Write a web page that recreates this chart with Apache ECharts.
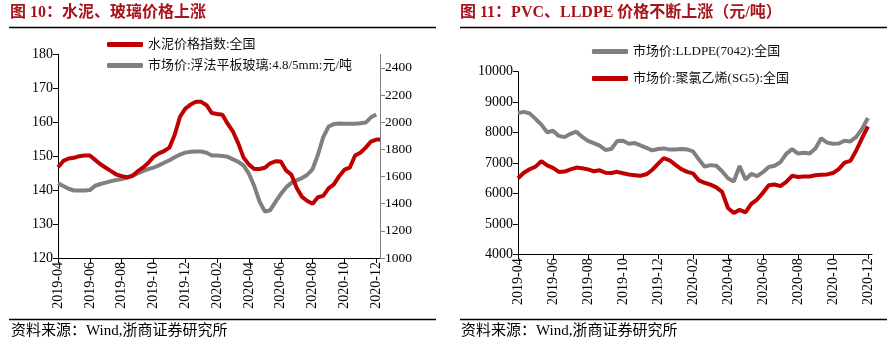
<!DOCTYPE html>
<html>
<head>
<meta charset="utf-8">
<script src="https://cdn.jsdelivr.net/npm/echarts@6/dist/echarts.min.js"></script>
<style>
  html, body { margin: 0; padding: 0; background: #fff; }
  #chart { width: 893px; height: 345px; }
</style>
</head>
<body>
<div id="chart"></div>
<script>
// sampling days within each month (1st, 11th, 21st)
const months = ['2019-04', '2019-05', '2019-06', '2019-07', '2019-08', '2019-09', '2019-10',
  '2019-11', '2019-12', '2020-01', '2020-02', '2020-03', '2020-04', '2020-05', '2020-06',
  '2020-07', '2020-08', '2020-09', '2020-10', '2020-11'];
const days = ['01', '11', '21'];
const leftDates = months.flatMap(m => days.map(d => m + '-' + d)).concat(['2020-12-01', '2020-12-08']);
const rightDates = months.flatMap(m => days.map(d => m + '-' + d)).concat(['2020-12-01']);

// 图10: 水泥价格指数 (left axis)
const cement = [
  146.7, 148.6, 149.3,  149.5, 150.0, 150.2,  150.2, 148.9, 147.6,  146.6, 145.6, 144.6,
  144.1, 143.8, 144.2,  145.5, 146.6, 148.0,  149.8, 150.8, 151.5,  152.5, 156.3, 161.6,
  164.0, 165.2, 166.0,  166.0, 165.0, 162.7,  162.4, 162.2, 159.5,  157.2, 153.7, 149.5,
  147.5, 146.2, 146.2,  146.6, 147.9, 148.5,  148.4, 145.8, 144.5,  140.6, 138.0, 136.8,
  136.0, 137.9, 138.3,  140.5, 141.7, 144.1,  146.0, 146.6, 150.2,  151.0, 152.5, 154.3,
  154.9, 154.9
];
// 图10: 浮法平板玻璃 元/吨 (right axis)
const glass = [
  1550, 1530, 1510,  1497, 1497, 1497,  1500, 1532, 1545,  1555, 1566, 1574,
  1581, 1590, 1605,  1623, 1640, 1654,  1666, 1682, 1701,  1720, 1742, 1762,
  1776, 1782, 1785,  1784, 1775, 1755,  1754, 1751, 1745,  1726, 1708, 1680,
  1620, 1530, 1415,  1342, 1352, 1413,  1471, 1520, 1553,  1572, 1589, 1613,
  1655, 1760, 1890,  1968, 1986, 1990,  1989, 1988, 1989,  1992, 1997, 2036,
  2057, null
];
// 图11: LLDPE(7042)
const lldpe = [
  8640, 8680, 8630,  8450, 8260, 8010,  8060, 7890, 7850,  7960, 8030, 7860,
  7730, 7650, 7570,  7430, 7460, 7720,  7730, 7635, 7655,  7580, 7500, 7415,
  7460, 7480, 7440,  7445, 7460, 7445,  7380, 7120, 6880,  6930, 6910, 6730,
  6500, 6390, 6900,  6460, 6640, 6570,  6700, 6870, 6910,  7030, 7300, 7455,
  7310, 7340, 7310,  7480, 7810, 7670,  7630, 7640, 7730,  7710, 7860, 8120,
  8480
];
// 图11: 聚氯乙烯(SG5)
const pvc = [
  6500, 6680, 6795,  6880, 7060, 6920,  6840, 6705, 6720,  6790, 6850, 6830,
  6790, 6730, 6760,  6680, 6670, 6710,  6665, 6620, 6600,  6580, 6630, 6770,
  6970, 7160, 7090,  6940, 6800, 6710,  6660, 6430, 6350,  6290, 6200, 6050,
  5520, 5360, 5460,  5380, 5660, 5800,  6020, 6270, 6295,  6240, 6380, 6580,
  6540, 6555, 6558,  6600, 6615, 6625,  6670, 6800, 7010,  7070, 7410, 7820,
  8200
];
const axisEnd = '2020-12-08';

// months since 2019-04-01
function monthIndex(s) {
  const [y, m, d] = s.split('-').map(Number);
  return (y - 2019) * 12 + (m - 4) + (d - 1) / 30;
}
function pairs(dates, vals) {
  return dates.map((d, i) => [monthIndex(d), vals[i]]);
}
function monthLabel(v) {
  const n = Math.round(v) + 3;
  const y = 2019 + Math.floor(n / 12);
  const m = (n % 12) + 1;
  return y + '-' + (m < 10 ? '0' + m : m);
}

const FONT = "'Liberation Serif', 'Noto Sans CJK SC', serif";
const RED = '#c00000';
const GREY = '#808080';
const TITLE_RED = '#a8141c';

function xAxis(grid) {
  return {
    type: 'value', gridIndex: grid, min: 0, max: monthIndex(axisEnd), interval: 2,
    axisLine: { onZero: false, lineStyle: { color: '#000', width: 1 } },
    axisTick: { length: 5, lineStyle: { color: '#000' } },
    splitLine: { show: false },
    axisLabel: {
      rotate: 90, margin: 4, fontSize: 14, color: '#000', fontFamily: FONT,
      showMaxLabel: false, formatter: monthLabel
    }
  };
}
function yAxis(grid, min, max, interval, pos, lineColor, fontSize) {
  return {
    type: 'value', gridIndex: grid, position: pos, min: min, max: max, interval: interval,
    axisLine: { show: true, lineStyle: { color: lineColor, width: 1 } },
    axisTick: { show: true, length: 5, lineStyle: { color: lineColor } },
    splitLine: { show: false },
    axisLabel: {
      fontSize: fontSize, color: '#000', fontFamily: FONT, margin: 5,
      showMaxLabel: max % interval === 0, formatter: v => String(v)
    }
  };
}
function legend(name, left, top) {
  return {
    data: [name], left: left, top: top, padding: 0, itemWidth: 36, itemHeight: 5,
    icon: 'roundRect', selectedMode: false,
    textStyle: { fontSize: 13, color: '#111', fontFamily: FONT }
  };
}
function rule(x1, x2, y) {
  return { type: 'line', shape: { x1: x1, y1: y, x2: x2, y2: y }, style: { stroke: '#000', lineWidth: 1.3 } };
}
function text(t, left, top, size, bold, color) {
  return {
    text: t, left: left, top: top, padding: 0,
    textStyle: { fontSize: size, fontWeight: bold ? 'bold' : 'normal', color: color, fontFamily: FONT }
  };
}

const chart = echarts.init(document.getElementById('chart'));
chart.setOption({
  animation: false,
  title: [
    text('图 10：水泥、玻璃价格上涨', 10, 5, 16, true, TITLE_RED),
    text('图 11：PVC、LLDPE 价格不断上涨（元/吨）', 460, 5, 16, true, TITLE_RED),
    text('资料来源：Wind,浙商证券研究所', 11, 324, 15, false, '#000'),
    text('资料来源：Wind,浙商证券研究所', 461, 324, 15, false, '#000')
  ],
  graphic: [rule(9, 436, 27.5), rule(460, 887, 27.5), rule(9, 436, 319.5), rule(460, 887, 319.5)],
  legend: [
    legend('水泥价格指数:全国', 107, 38),
    legend('市场价:浮法平板玻璃:4.8/5mm:元/吨', 107, 59),
    legend('市场价:LLDPE(7042):全国', 592, 45),
    legend('市场价:聚氯乙烯(SG5):全国', 592, 72)
  ],
  grid: [
    { left: 58, top: 54.3, width: 322, height: 203.7 },
    { left: 518, top: 71.7, width: 354, height: 182.6 }
  ],
  xAxis: [xAxis(0), xAxis(1)],
  yAxis: [
    yAxis(0, 120, 180, 10, 'left', '#000', 14),
    yAxis(0, 1000, 2500, 200, 'right', GREY, 13.5),
    yAxis(1, 4000, 10000, 1000, 'left', '#000', 14)
  ],
  series: [
    {
      name: '市场价:浮法平板玻璃:4.8/5mm:元/吨', type: 'line', xAxisIndex: 0, yAxisIndex: 1,
      data: pairs(leftDates, glass), symbol: 'none', z: 2,
      lineStyle: { width: 4, color: GREY }, itemStyle: { color: GREY }
    },
    {
      name: '水泥价格指数:全国', type: 'line', xAxisIndex: 0, yAxisIndex: 0,
      data: pairs(leftDates, cement), symbol: 'none', z: 3,
      lineStyle: { width: 4, color: RED }, itemStyle: { color: RED }
    },
    {
      name: '市场价:LLDPE(7042):全国', type: 'line', xAxisIndex: 1, yAxisIndex: 2,
      data: pairs(rightDates, lldpe), symbol: 'none', z: 2,
      lineStyle: { width: 4, color: GREY }, itemStyle: { color: GREY }
    },
    {
      name: '市场价:聚氯乙烯(SG5):全国', type: 'line', xAxisIndex: 1, yAxisIndex: 2,
      data: pairs(rightDates, pvc), symbol: 'none', z: 3,
      lineStyle: { width: 4, color: RED }, itemStyle: { color: RED }
    }
  ]
});
</script>
</body>
</html>
